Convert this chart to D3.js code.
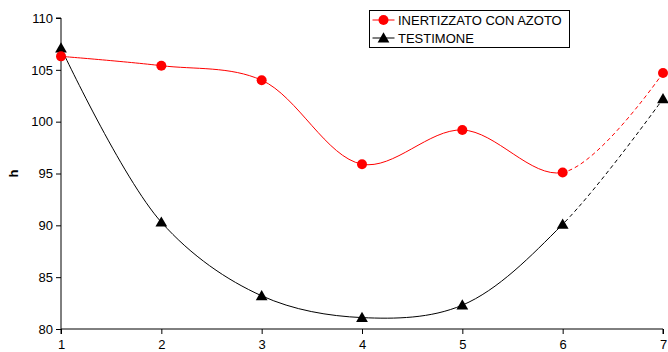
<!DOCTYPE html>
<html>
<head>
<meta charset="utf-8">
<script src="https://cdn.jsdelivr.net/npm/d3@7"></script>
<style>
  body { margin: 0; background: #fff; }
  svg text { font-family: "Liberation Sans", Arial, sans-serif; }
</style>
</head>
<body>
<div id="graphic"></div>
<script>
// data
const xValues = [1, 2, 3, 4, 5, 6, 7];
const azoto = [106.3, 105.4, 104.0, 95.9, 99.2, 95.1, 104.7];
const testimone = [107.1, 90.3, 83.2, 81.1, 82.3, 90.1, 102.2];
const yTicks = [80, 85, 90, 95, 100, 105, 110];
const seriesNames = ["INERTIZZATO CON AZOTO", "TESTIMONE"];

const width = 668, height = 352;
const margin = { top: 18, right: 5, bottom: 23, left: 61 };

const svg = d3.select('#graphic').append('svg')
	.attr('width', width)
	.attr('height', height);

const x = d3.scaleLinear().domain([1, 7]).range([margin.left, width - margin.right]);
const y = d3.scaleLinear().domain([80, 110]).range([height - margin.bottom, margin.top]);

//axes
const yAxis = d3.axisLeft(y).tickValues(yTicks).tickSize(5).tickPadding(3);
const xAxis = d3.axisBottom(x).tickValues(xValues).tickSize(5).tickPadding(6).tickFormat(d3.format('d'));

svg.append('g')
	.attr('transform', `translate(${margin.left},0)`)
	.call(yAxis)
	.call(g => g.select('.domain').attr('d', `M-5,${y(110)}H0V${y(80)}`))
	.selectAll('text').style('font-size', '13px').attr('fill', '#000');

svg.append('g')
	.attr('transform', `translate(0,${y(80)})`)
	.call(xAxis)
	.call(g => g.select('.domain').attr('d', `M${x(1)},5V0H${x(7)}V5`))
	.selectAll('text').style('font-size', '13px').attr('fill', '#000');

svg.append('text')
	.attr('transform', `translate(18,${(y(80) + y(110)) / 2}) rotate(-90)`)
	.attr('text-anchor', 'middle')
	.style('font-size', '13px')
	.style('font-weight', 'bold')
	.text('h');

// clip paths: solid up to x=6, dashed after
const defs = svg.append('defs');
defs.append('clipPath').attr('id', 'solid')
	.append('rect').attr('x', 0).attr('y', 0).attr('width', x(6)).attr('height', height);
defs.append('clipPath').attr('id', 'dashed')
	.append('rect').attr('x', x(6)).attr('y', 0).attr('width', width - x(6)).attr('height', height);

const line = d3.line()
	.x((d, i) => x(xValues[i]))
	.y(d => y(d))
	.curve(d3.curveCatmullRom.alpha(0.5));

const series = [
	{ name: seriesNames[0], values: azoto, colour: '#ff0000', marker: 'circle' },
	{ name: seriesNames[1], values: testimone, colour: '#000000', marker: 'triangle' }
];

const tri = d3.symbol().type(d3.symbolTriangle).size(60);

function drawMarker(g, s, cx, cy) {
	if (s.marker === 'circle') {
		g.append('circle').attr('cx', cx).attr('cy', cy).attr('r', 5).attr('fill', s.colour);
	} else {
		g.append('path').attr('d', tri()).attr('transform', `translate(${cx},${cy + 1})`).attr('fill', s.colour);
	}
}

// draw black first so red sits on top at x=1
[series[1], series[0]].forEach(s => {
	const g = svg.append('g');
	g.append('path')
		.attr('d', line(s.values))
		.attr('fill', 'none')
		.attr('stroke', s.colour)
		.attr('stroke-width', 1)
		.attr('clip-path', 'url(#solid)');
	g.append('path')
		.attr('d', line(s.values))
		.attr('fill', 'none')
		.attr('stroke', s.colour)
		.attr('stroke-width', 1)
		.attr('stroke-dasharray', '4 3')
		.attr('clip-path', 'url(#dashed)');
	s.values.forEach((v, i) => drawMarker(g, s, x(xValues[i]), y(v)));
});

// legend
const legend = svg.append('g').attr('transform', 'translate(369.5,10.5)');
legend.append('rect')
	.attr('width', 200).attr('height', 37)
	.attr('fill', '#fff').attr('stroke', '#000').attr('stroke-width', 1);

series.forEach((s, i) => {
	const ly = 9.5 + i * 18;
	legend.append('line')
		.attr('x1', 3).attr('x2', 25).attr('y1', ly).attr('y2', ly)
		.attr('stroke', s.colour);
	drawMarker(legend, s, 14, ly);
	legend.append('text')
		.attr('x', 28.5).attr('y', ly + 4.5)
		.style('font-size', '13px')
		.text(s.name);
});
</script>
</body>
</html>
